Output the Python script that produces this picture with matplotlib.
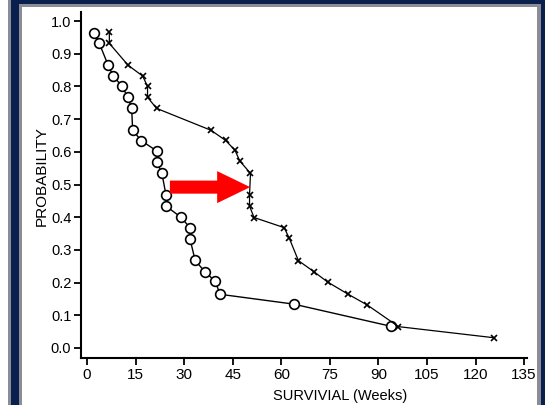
import matplotlib
matplotlib.use("Agg")
import matplotlib.pyplot as plt
from matplotlib.patches import Rectangle, FancyArrow

# Data
group_o_weeks = [2.2, 3.8, 6.5, 8.1, 10.9, 12.6, 13.8, 14.1, 16.8, 21.5, 21.5, 23.1,
                 24.4, 24.4, 29.0, 31.8, 31.8, 33.4, 36.4, 39.6, 41.1, 63.8, 93.9]
group_o_prob = [0.965, 0.932, 0.866, 0.832, 0.800, 0.767, 0.733, 0.666, 0.634, 0.603,
                0.570, 0.536, 0.468, 0.434, 0.400, 0.368, 0.334, 0.268, 0.233, 0.204,
                0.164, 0.134, 0.066]

group_x_weeks = [6.9, 6.9, 12.7, 17.2, 18.7, 18.7, 21.5, 38.3, 42.8, 45.7, 47.2, 50.5,
                 50.2, 50.2, 51.6, 60.9, 62.5, 65.3, 70.1, 74.4, 80.7, 86.6, 96.2, 125.7]
group_x_prob = [0.966, 0.932, 0.865, 0.832, 0.800, 0.767, 0.733, 0.666, 0.635, 0.605,
                0.572, 0.534, 0.468, 0.434, 0.399, 0.368, 0.335, 0.267, 0.233, 0.201,
                0.164, 0.131, 0.065, 0.031]

x_ticks = [0, 15, 30, 45, 60, 75, 90, 105, 120, 135]
y_ticks = [0.0, 0.1, 0.2, 0.3, 0.4, 0.5, 0.6, 0.7, 0.8, 0.9, 1.0]
y_tick_labels = ["0.0", "0.1", "0.2", "0.3", "0.4", "0.5", "0.6", "0.7", "0.8", "0.9", "1.0"]

narrow = ['Liberation Sans', 'DejaVu Sans']

fig = plt.figure(figsize=(5.45, 4.05), dpi=100)
fig.patch.set_facecolor('white')

W, H = 545.0, 405.0
def frect(x0, y0, w, h, color):
    fig.patches.append(Rectangle((x0 / W, 1 - (y0 + h) / H), w / W, h / H,
                                 transform=fig.transFigure, facecolor=color,
                                 edgecolor='none', zorder=0))

navy = '#0b1f4e'
gray = '#8a8d93'
# left frame
frect(8, 0, 3, 405, gray)
frect(11, 0, 8, 405, navy)
frect(19, 0, 3, 405, gray)
# top frame
frect(19, 0, 526, 4, navy)
frect(22, 4, 523, 3, gray)
# right frame
frect(537, 4, 4, 401, gray)
frect(541, 0, 4, 405, navy)

ax = fig.add_axes([81 / W, 1 - 358 / H, (527 - 81) / W, (358 - 12) / H])
ax.set_facecolor('none')
ax.set_xlim(-1.85, 135.9)
ax.set_ylim(-0.031, 1.028)

ax.plot(group_o_weeks, group_o_prob, color='black', lw=1.0, marker='o',
        markersize=7, markerfacecolor='white', markeredgecolor='black',
        markeredgewidth=1.2, zorder=3)
ax.plot(group_x_weeks, group_x_prob, color='black', lw=0.9, marker='x',
        markersize=4.2, markeredgewidth=1.2, zorder=3)

# red arrow
ax.add_patch(FancyArrow(25.6, 0.492, 24.8, 0.0, width=0.040, head_width=0.098,
                        head_length=10.2, length_includes_head=True,
                        facecolor='#ff0000', edgecolor='none', zorder=4))

for s in ['top', 'right']:
    ax.spines[s].set_visible(False)
for s in ['left', 'bottom']:
    ax.spines[s].set_linewidth(1.5)
    ax.spines[s].set_color('black')

ax.set_xticks(x_ticks)
ax.set_xticklabels([str(t) for t in x_ticks], family=narrow, fontsize=11)
ax.set_yticks(y_ticks)
ax.set_yticklabels(y_tick_labels, family=narrow, fontsize=10.5)
ax.tick_params(axis='both', direction='out', length=5, width=1.3, colors='black', pad=2)

ax.set_xlabel('SURVIVIAL (Weeks)', family=narrow, fontsize=10.5)
ax.xaxis.set_label_coords((340 - 81) / (527 - 81), -(396 - 358) / (358 - 12), transform=ax.transAxes)
ax.xaxis.label.set_verticalalignment('center')
ax.set_ylabel('PROBABILITY', family=['Liberation Sans', 'DejaVu Sans'], fontsize=11)
ax.yaxis.set_label_coords(-(81 - 42) / (527 - 81), (358 - 176) / (358 - 12), transform=ax.transAxes)
ax.yaxis.label.set_verticalalignment('center')

fig.savefig('out.png', dpi=100)
